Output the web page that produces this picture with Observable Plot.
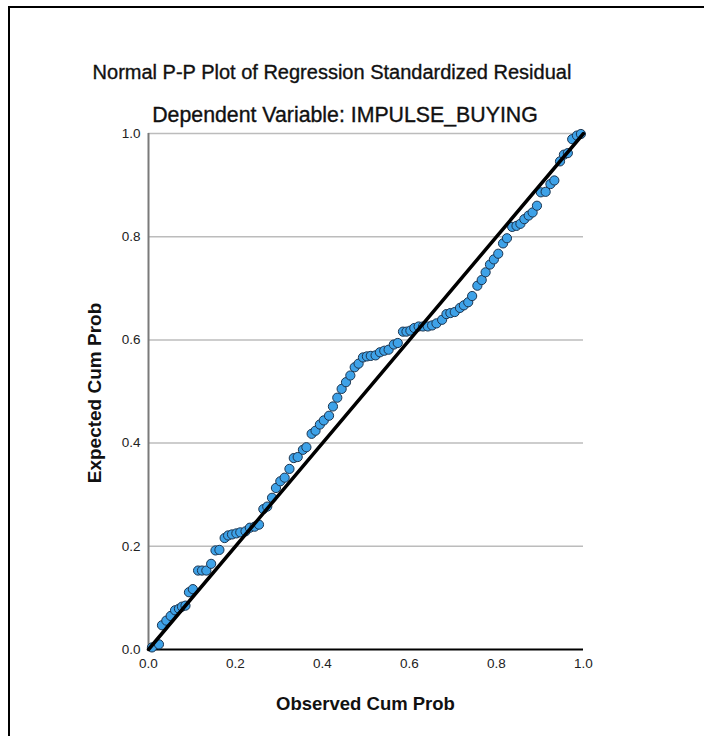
<!DOCTYPE html>
<html>
<head>
<meta charset="utf-8">
<script src="https://cdn.jsdelivr.net/npm/d3@7"></script>
<script src="https://cdn.jsdelivr.net/npm/@observablehq/plot@0.6"></script>
<style>
  html, body { margin: 0; padding: 0; background: #fff; }
  #wrap { position: relative; width: 704px; height: 736px; overflow: hidden; font-family: "Liberation Sans", Arial, sans-serif; }
  #frame { position: absolute; left: 8px; top: 6px; width: 800px; height: 800px; border-left: 2px solid #000; border-top: 2px solid #000; }
  .t { position: absolute; white-space: nowrap; color: #111; }
  #title { left: 0; width: 664px; text-align: center; top: 61px; font-size: 20px; -webkit-text-stroke: 0.35px #111; }
  #subtitle { left: 0; width: 690px; text-align: center; top: 103px; font-size: 21.3px; -webkit-text-stroke: 0.35px #111; }
  #xlabel { left: 0; width: 731px; text-align: center; top: 693px; font-size: 18.5px; font-weight: bold; }
  #ylabel { left: 95px; top: 393px; font-size: 19px; font-weight: bold; transform: translate(-50%, -50%) rotate(-90deg); }
  svg { position: absolute; left: 0; top: 0; }
</style>
</head>
<body>
<div id="wrap">
  <div id="frame"></div>
  <div class="t" id="title">Normal P-P Plot of Regression Standardized Residual</div>
  <div class="t" id="subtitle">Dependent Variable: IMPULSE_BUYING</div>
  <div class="t" id="xlabel">Observed Cum Prob</div>
  <div class="t" id="ylabel">Expected Cum Prob</div>
</div>
<script>
const observed = [
  0.008,0.024,0.031,0.041,0.051,0.061,0.070,0.077,0.085,0.093,
  0.102,0.114,0.123,0.133,0.144,0.154,0.163,0.175,0.183,0.192,
  0.202,0.211,0.223,0.233,0.244,0.254,0.264,0.273,0.284,0.293,
  0.303,0.313,0.324,0.334,0.343,0.355,0.363,0.375,0.384,0.394,
  0.403,0.415,0.424,0.434,0.444,0.454,0.464,0.474,0.483,0.493,
  0.502,0.511,0.522,0.532,0.542,0.552,0.564,0.573,0.585,0.593,
  0.602,0.611,0.621,0.631,0.642,0.652,0.662,0.675,0.685,0.694,
  0.704,0.716,0.725,0.735,0.744,0.756,0.766,0.775,0.785,0.794,
  0.804,0.815,0.824,0.836,0.846,0.855,0.864,0.874,0.883,0.893,
  0.902,0.913,0.924,0.933,0.946,0.955,0.964,0.974,0.985,0.994
];
const expected = [
  0.004,0.010,0.047,0.056,0.065,0.076,0.079,0.083,0.085,0.111,
  0.117,0.153,0.153,0.153,0.166,0.192,0.193,0.216,0.221,0.223,
  0.225,0.227,0.229,0.236,0.238,0.242,0.272,0.277,0.294,0.313,
  0.326,0.333,0.350,0.371,0.373,0.387,0.392,0.418,0.424,0.436,
  0.444,0.453,0.471,0.488,0.505,0.518,0.531,0.547,0.554,0.566,
  0.568,0.569,0.570,0.576,0.579,0.581,0.591,0.594,0.616,0.616,
  0.618,0.623,0.626,0.626,0.626,0.628,0.632,0.639,0.650,0.652,
  0.654,0.662,0.667,0.673,0.685,0.705,0.716,0.731,0.746,0.756,
  0.767,0.787,0.797,0.819,0.821,0.825,0.834,0.841,0.847,0.860,
  0.886,0.887,0.902,0.909,0.946,0.959,0.962,0.989,0.996,0.999
];
const xTicks = [0, 0.2, 0.4, 0.6, 0.8, 1.0];
const yTicks = [0, 0.2, 0.4, 0.6, 0.8, 1.0];
const gridTicks = [0.2, 0.4, 0.6, 0.8, 1.0];
const refLine = [0, 1];

const points = observed.map((x, i) => ({x, y: expected[i]}));

const chart = Plot.plot({
  width: 704,
  height: 736,
  marginLeft: 148,
  marginRight: 121,
  marginTop: 133,
  marginBottom: 87,
  style: {fontFamily: "'Liberation Sans', Arial, sans-serif", background: "transparent"},
  x: {domain: [0, 1]},
  y: {domain: [0, 1]},
  marks: [
    Plot.gridY(gridTicks, {stroke: "#bcbcbc", strokeOpacity: 1, strokeWidth: 1.5}),
    Plot.axisY(yTicks, {tickSize: 0, tickPadding: 8, fontSize: 13.5, fill: "#222", tickFormat: d3.format(".1f"), label: null}),
    Plot.axisX(xTicks, {tickSize: 0, tickPadding: 9, fontSize: 13.5, fill: "#222", tickFormat: d3.format(".1f"), label: null}),
    Plot.ruleX([0], {stroke: "#7a7a7a", strokeWidth: 2}),
    Plot.ruleY([0], {stroke: "#000", strokeWidth: 2}),
    Plot.dot(points, {x: "x", y: "y", r: 4.6, fill: "#3ea2e8", stroke: "#1c3550", strokeWidth: 1}),
    Plot.line(refLine, {x: d => d, y: d => d, stroke: "#000", strokeWidth: 3.5})
  ]
});
document.getElementById("wrap").appendChild(chart);
</script>
</body>
</html>
